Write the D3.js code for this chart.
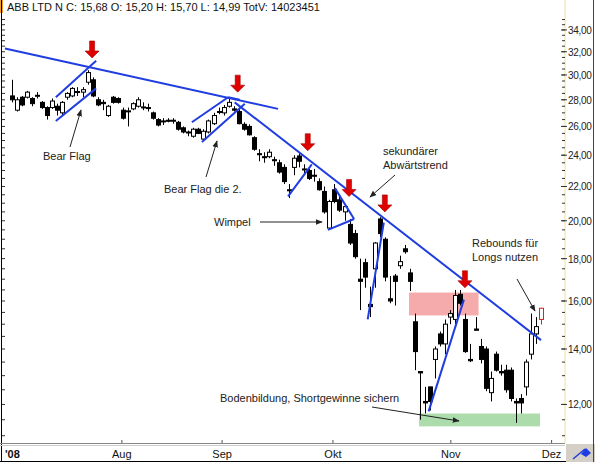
<!DOCTYPE html>
<html>
<head>
<meta charset="utf-8">
<script src="https://cdn.jsdelivr.net/npm/d3@7"></script>
<style>
  body { margin: 0; background: #fff; }
  text { font-family: "Liberation Sans", Arial, sans-serif; }
</style>
</head>
<body>
<div id="chart"></div>
<script>
// daily candles, [open, high, low, close]
const candles = [
  [28.3,29.6,27.8,28.0],[27.2,28.2,27.1,28.0],[28.2,28.3,27.5,27.6],[28.2,28.7,28.1,28.6],
  [28.1,28.2,27.5,27.7],[28.3,28.6,28.1,28.35],[27.8,27.9,27.3,27.4],[27.4,27.5,26.5,26.8],
  [27.4,28.1,27.3,27.9],[27.5,27.7,26.8,27.2],[27.0,27.9,26.8,27.8],[28.2,28.6,28.0,28.5],
  [28.3,29.0,28.2,28.9],[28.6,29.0,28.3,28.65],[28.6,29.0,28.2,28.8],[29.4,30.4,29.2,30.2],
  [29.6,29.8,28.2,28.3],[28.0,28.2,27.5,27.6],[27.8,28.0,27.2,27.7],[26.8,27.6,26.7,27.5],
  [28.2,28.3,27.7,27.8],[28.1,28.2,27.7,27.8],[27.2,27.4,26.5,26.6],[27.1,27.4,26.0,27.15],
  [27.3,27.8,27.2,27.7],[27.5,28.2,27.4,28.0],[27.4,27.8,27.2,27.45],[27.4,27.7,27.1,27.35],
  [27.0,27.1,26.5,26.6],[26.5,26.6,26.0,26.1],[26.4,26.6,26.1,26.35],[26.45,26.6,26.3,26.4],
  [26.4,26.6,26.2,26.45],[26.3,26.4,25.7,25.8],[25.9,26.0,25.5,25.6],[25.6,25.7,25.3,25.55],
  [25.3,25.9,25.2,25.8],[25.8,25.9,25.45,25.5],[25.1,25.8,25.0,25.65],[25.6,26.5,25.5,26.4],
  [26.2,27.0,26.1,26.8],[27.1,27.4,26.9,27.05],[27.0,27.6,26.8,27.4],[27.5,28.2,27.4,27.8],
  [27.3,27.5,27.1,27.2],[27.1,27.4,26.15,26.2],[26.15,26.3,25.7,25.8],[26.0,26.15,25.35,25.4],
  [25.2,25.3,24.3,24.4],[24.1,24.4,23.6,24.05],[23.9,24.2,23.5,23.85],[23.9,24.4,23.8,24.2],
  [23.7,23.9,23.3,23.65],[23.5,23.7,22.8,22.9],[23.2,23.4,22.15,22.3],[21.8,22.15,21.3,21.75],
  [23.2,24.0,22.7,23.8],[23.95,24.2,23.2,23.6],[23.1,23.4,22.8,23.05],[23.0,23.1,22.4,22.5],
  [22.7,23.1,22.3,22.65],[22.3,22.5,21.75,21.8],[21.7,22.0,20.4,20.5],[19.6,21.2,19.55,21.1],
  [21.8,22.15,21.0,21.1],[21.2,21.4,20.5,20.6],[20.5,20.95,20.0,20.8],[19.8,20.1,18.7,18.8],
  [19.3,19.5,18.0,18.1],[17.0,18.0,15.6,16.9],[17.8,18.0,16.6,17.1],[15.85,16.65,15.3,15.75],
  [17.5,18.85,16.6,18.8],[20.1,20.2,19.1,19.3],[19.0,19.1,16.9,17.1],[16.1,17.15,15.9,16.0],
  [17.15,17.25,15.8,16.9],[17.65,18.15,17.5,17.85],[18.5,18.7,18.25,18.35],[17.3,17.5,16.45,16.9],
  [15.1,15.45,13.2,13.9],[13.15,13.15,11.5,13.1],[12.1,12.6,11.7,12.05],[12.6,12.6,11.8,12.1],
  [13.6,14.1,12.9,14.0],[14.6,14.7,14.1,14.2],[14.2,15.2,13.8,15.0],[15.3,15.6,15.0,15.45],
  [15.2,16.5,15.0,16.25],[16.3,16.5,15.8,15.9],[15.2,15.45,13.85,13.9],[13.6,14.2,13.5,13.55],
  [14.8,15.3,14.75,14.75],[14.1,14.4,13.45,13.6],[14.0,14.1,12.45,12.55],[12.4,13.15,12.1,12.9],
  [13.8,13.9,13.15,13.2],[13.15,13.4,13.0,13.1],[13.2,13.4,12.4,12.5],[13.2,13.3,12.1,12.2],
  [12.1,12.2,11.4,12.05],[12.2,12.35,11.7,12.05],[12.6,13.6,12.3,13.5],[13.8,15.45,13.6,14.6],
  [14.6,15.3,14.2,14.9],[15.20,15.70,14.99,15.68]
];

// month labels with the candle index where each month starts
const monthLabels = ["'08", "Aug", "Sep", "Okt", "Nov", "Dez"];
const monthStarts = [-1.2, 21.8, 41.7, 63.7, 87.1, 107.1];

const priceTicks = [12, 14, 16, 18, 20, 22, 24, 26, 28, 30, 32, 34];

// trend lines and flags: [[index, price], [index, price]]
const blueLines = [
  [[-1.4, 32.3], [52.8, 27.3]],
  [[44.2, 27.8], [105, 14.35]],
  [[8.7, 28.2], [16.7, 31.2]],
  [[8.7, 26.4], [16.7, 28.9]],
  [[35.7, 26.3], [42.9, 28.2]],
  [[37.7, 24.9], [46.2, 27.7]],
  [[42.9, 28.2], [45.2, 28.0]],
  [[54.8, 21.4], [59.5, 23.4]],
  [[64.1, 21.9], [67.9, 20.1]],
  [[62.7, 19.5], [67.9, 20.1]],
  [[70.6, 15.2], [73.8, 19.9]],
  [[82.7, 11.77], [89.7, 16.06]]
];

// red arrows: tip at [index, price]
const redArrows = [[15.9, 31.45], [44.8, 28.6], [58.7, 24.3], [66.9, 21.4], [74.0, 20.5], [89.9, 16.6]];

// zones: [index from, index to, price top, price bottom]
const zones = [
  { range: [78.8, 92.6, 16.38, 15.37], color: "#f5abab" },
  { range: [80.8, 104.8, 11.70, 11.29], color: "#acdcac" }
];

const W = 595, H = 462;
const plotRight = 565, plotBottom = 443;

const svg = d3.select("#chart").append("svg")
  .attr("width", W).attr("height", H);

svg.append("rect").attr("width", W).attr("height", H).attr("fill", "#fff");

const x = d3.scaleLinear().domain([0, 105]).range([12, 541]);
const y = d3.scaleLog().domain([10.72, 35.15]).range([445, 18]);

// zones under everything
zones.forEach(z => {
  const [i0, i1, p0, p1] = z.range;
  svg.append("rect")
    .attr("x", x(i0)).attr("y", y(p0))
    .attr("width", x(i1) - x(i0)).attr("height", y(p1) - y(p0))
    .attr("fill", z.color);
});

// candles
const cw = 4;
const g = svg.append("g");
candles.forEach((c, i) => {
  const [o, h, l, cl] = c;
  const last = i === candles.length - 1;
  const col = last ? "#e02020" : "#000";
  const cx = Math.round(x(i)) + 0.5;
  g.append("line")
    .attr("x1", cx).attr("x2", cx)
    .attr("y1", y(h)).attr("y2", y(l))
    .attr("stroke", col).attr("stroke-width", 1);
  const top = y(Math.max(o, cl)), bot = y(Math.min(o, cl));
  g.append("rect")
    .attr("x", cx - cw / 2).attr("y", top)
    .attr("width", cw).attr("height", Math.max(1, bot - top))
    .attr("fill", cl >= o ? "#fff" : "#000")
    .attr("stroke", col).attr("stroke-width", 1);
});

// blue lines
blueLines.forEach(d => {
  svg.append("line")
    .attr("x1", x(d[0][0])).attr("y1", y(d[0][1]))
    .attr("x2", x(d[1][0])).attr("y2", y(d[1][1]))
    .attr("stroke", "#1f3de0").attr("stroke-width", 2);
});

// red arrows
redArrows.forEach(a => {
  const tx = x(a[0]), ty = y(a[1]);
  svg.append("path")
    .attr("d", `M${tx},${ty} L${tx - 7},${ty - 7} L${tx - 2.5},${ty - 7} L${tx - 2.5},${ty - 17}
      L${tx + 2.5},${ty - 17} L${tx + 2.5},${ty - 7} L${tx + 7},${ty - 7} Z`)
    .attr("fill", "#e00000").attr("stroke", "#a00000").attr("stroke-width", 0.6);
});

// callout texts and pointer arrows
const notes = [
  { t: ["Bear Flag"], x: 43, y: 160 },
  { t: ["Bear Flag die 2."], x: 164, y: 193 },
  { t: ["Wimpel"], x: 214, y: 226 },
  { t: ["sekundärer", "Abwärtstrend"], x: 383, y: 155 },
  { t: ["Rebounds für", "Longs nutzen"], x: 472, y: 247 },
  { t: ["Bodenbildung, Shortgewinne sichern"], x: 220, y: 402 }
];
notes.forEach(n => {
  const tx = svg.append("text").attr("x", n.x).attr("y", n.y)
    .attr("font-size", 11).attr("fill", "#222");
  n.t.forEach((s, k) => tx.append("tspan").attr("x", n.x).attr("dy", k ? 14 : 0).text(s));
});

svg.append("defs").append("marker")
  .attr("id", "ah").attr("viewBox", "0 0 10 10").attr("refX", 9).attr("refY", 5)
  .attr("markerWidth", 7).attr("markerHeight", 7).attr("orient", "auto")
  .append("path").attr("d", "M0,1 L10,5 L0,9 Z").attr("fill", "#222");

const pointers = [
  [70, 147, 81, 110], [206, 177, 217, 141], [260, 222, 322, 222],
  [395, 175, 370, 197], [517, 279, 535, 311], [372, 407, 459, 421]
];
pointers.forEach(p => {
  svg.append("line")
    .attr("x1", p[0]).attr("y1", p[1]).attr("x2", p[2]).attr("y2", p[3])
    .attr("stroke", "#222").attr("stroke-width", 1)
    .attr("marker-end", "url(#ah)");
});

// title
svg.append("rect").attr("x", 0).attr("y", 0).attr("width", 3).attr("height", 13).attr("fill", "#f0a030");
svg.append("text").attr("x", 7).attr("y", 11).attr("font-size", 11).attr("fill", "#111")
  .text("ABB LTD N C: 15,68 O: 15,20 H: 15,70 L: 14,99 TotV: 14023451");

// right axis
const minorTicks = d3.range(11, 35.01, 0.5);
const rAxis = svg.append("g").attr("transform", `translate(${plotRight},0)`);
rAxis.append("line").attr("y1", 0).attr("y2", plotBottom).attr("stroke", "#e8e0a0");
rAxis.selectAll(".mn").data(minorTicks).enter().append("line")
  .attr("x1", -3).attr("x2", 0).attr("y1", d => y(d)).attr("y2", d => y(d)).attr("stroke", "#333");
rAxis.selectAll(".mj").data(priceTicks).enter().append("line")
  .attr("x1", -4).attr("x2", 2).attr("y1", d => y(d)).attr("y2", d => y(d)).attr("stroke", "#333");
rAxis.selectAll(".lb").data(priceTicks).enter().append("text")
  .attr("x", 3).attr("y", d => y(d) + 4).attr("font-size", 10).attr("letter-spacing", -0.3).attr("fill", "#222")
  .text(d => d3.format(".2f")(d).replace(".", ","));

// left edge
svg.append("line").attr("x1", 1.5).attr("x2", 1.5).attr("y1", 0).attr("y2", H).attr("stroke", "#000");
svg.selectAll(".lt").data(minorTicks).enter().append("line")
  .attr("x1", 2).attr("x2", 5).attr("y1", d => y(d)).attr("y2", d => y(d)).attr("stroke", "#333");

// bottom axis
svg.append("line").attr("x1", 0).attr("x2", plotRight).attr("y1", plotBottom + 0.5).attr("y2", plotBottom + 0.5).attr("stroke", "#888");
svg.append("line").attr("x1", 0).attr("x2", plotRight).attr("y1", plotBottom + 2.5).attr("y2", plotBottom + 2.5).attr("stroke", "#ccc");
monthLabels.forEach((m, k) => {
  const mx = x(monthStarts[k]);
  if (k > 0) svg.append("line").attr("x1", mx).attr("x2", mx).attr("y1", plotBottom - 3).attr("y2", plotBottom).attr("stroke", "#555");
  svg.append("text")
    .attr("x", k === 0 ? 5 : mx).attr("y", 458)
    .attr("text-anchor", k === 0 ? "start" : "middle")
    .attr("font-size", 11).attr("font-weight", k === 0 ? "bold" : "normal").attr("fill", "#111")
    .text(m);
});
svg.append("line").attr("x1", 0).attr("x2", W).attr("y1", H - 0.5).attr("y2", H - 0.5).attr("stroke", "#000");

// corner button
svg.append("rect").attr("x", plotRight + 1).attr("y", plotBottom + 1).attr("width", W - plotRight - 1).attr("height", H - plotBottom - 1).attr("fill", "#d4d0c8");
svg.append("line").attr("x1", plotRight + 8).attr("y1", H - 3).attr("x2", plotRight + 20).attr("y2", H - 13).attr("stroke", "#1f3de0").attr("stroke-width", 1.5);
svg.append("path").attr("d", `M${plotRight + 16},${H - 8} l5,-6 l5,5 l-5,4 Z`).attr("fill", "#1f3de0");
svg.append("line").attr("x1", W - 1.5).attr("x2", W - 1.5).attr("y1", 0).attr("y2", H).attr("stroke", "#444");
</script>
</body>
</html>
